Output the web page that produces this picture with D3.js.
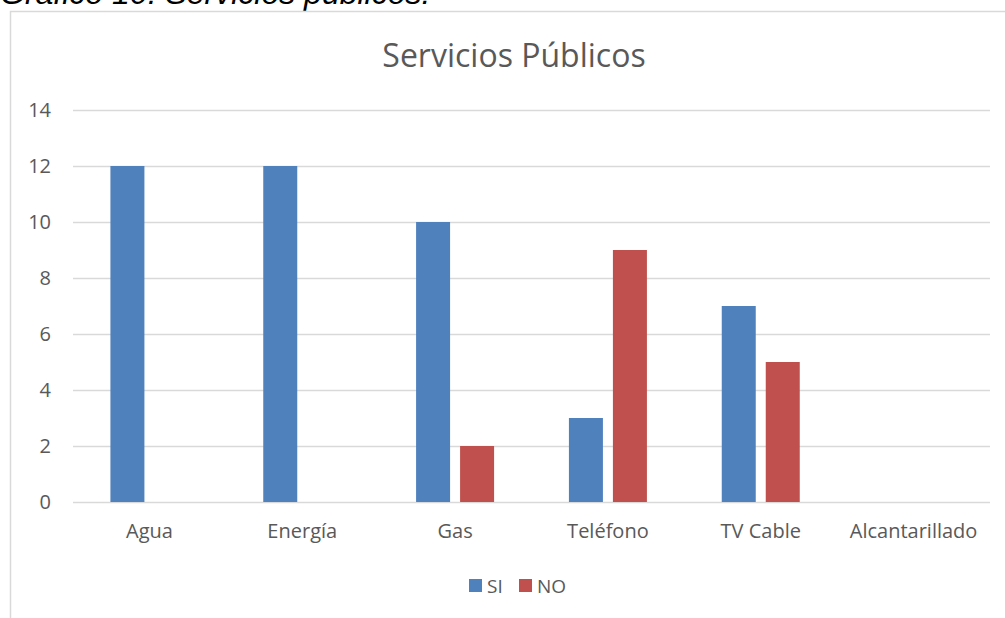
<!DOCTYPE html>
<html>
<head>
<meta charset="utf-8">
<script src="https://cdn.jsdelivr.net/npm/d3@7"></script>
<style>
  body { margin: 0; background: #fff; }
  svg { display: block; }
</style>
</head>
<body>
<svg id="chart" width="1005" height="618"></svg>
<script>
var categories = ["Agua", "Energía", "Gas", "Teléfono", "TV Cable", "Alcantarillado"];
var seriesNames = ["SI", "NO"];
var siValues = [12, 12, 10, 3, 7, 0];
var noValues = [0, 0, 2, 9, 5, 0];
var yTicks = [0, 2, 4, 6, 8, 10, 12, 14];
var colors = ["#4F81BD", "#C0504D"];

var svg = d3.select("#chart");
var font = "'Open Sans', sans-serif";

// caption above the chart box (clipped at top in the original)
svg.append("text")
    .attr("x", 0)
    .attr("y", 4)
    .style("font-family", "'Liberation Sans', Arial, sans-serif")
    .style("font-style", "italic")
    .style("font-size", "32px")
    .style("fill", "#000")
    .text("Gráfico 10. Servicios públicos.");

// chart area border (left and top only visible)
svg.append("path")
    .attr("d", "M10.5,618 V11.5 H1005")
    .attr("fill", "none")
    .attr("stroke", "#D9D9D9")
    .attr("stroke-width", 1.5);

var plotLeft = 73, plotRight = 990, plotTop = 110, plotBottom = 502;

var x0 = d3.scaleBand().domain(categories).range([plotLeft, plotRight]).padding(0);
var bw = x0.bandwidth();
var x1 = d3.scaleBand().domain(seriesNames)
    .range([bw / 2 - 39, bw / 2 + 39])
    .paddingInner(10 / 44);
var y = d3.scaleLinear().domain([0, 14]).range([plotBottom, plotTop]);

// gridlines
svg.append("g")
  .selectAll("line")
    .data(yTicks)
    .enter()
    .append("line")
    .attr("x1", plotLeft)
    .attr("x2", plotRight)
    .attr("y1", function(d) { return Math.round(y(d)) + 0.5; })
    .attr("y2", function(d) { return Math.round(y(d)) + 0.5; })
    .attr("stroke", "#D9D9D9")
    .attr("stroke-width", 1.3);

// y axis labels
var yAxis = svg.append("g")
    .attr("transform", "translate(" + (plotLeft - 22) + ",0)")
    .call(d3.axisLeft(y).tickValues(yTicks).tickSize(0).tickPadding(0));
yAxis.select(".domain").remove();
yAxis.selectAll("text")
    .style("font-family", font)
    .style("font-size", "20px")
    .style("fill", "#595959");

// x axis labels
var xAxis = svg.append("g")
    .attr("transform", "translate(0," + plotBottom + ")")
    .call(d3.axisBottom(x0).tickSize(0).tickPadding(22));
xAxis.select(".domain").remove();
xAxis.selectAll("text")
    .style("font-family", font)
    .style("font-size", "20px")
    .style("fill", "#595959");

var rows = categories.map(function(c, i) {
  return { cat: c, values: [siValues[i], noValues[i]] };
});

var groups = svg.selectAll(".grp")
    .data(rows)
    .enter()
    .append("g")
    .attr("class", "grp")
    .attr("transform", function(d) { return "translate(" + x0(d.cat) + ",0)"; });

groups.selectAll("rect")
    .data(function(d) { return d.values.map(function(v, j) { return { s: seriesNames[j], v: v, j: j }; }); })
    .enter()
    .append("rect")
    .attr("x", function(d) { return x1(d.s); })
    .attr("width", x1.bandwidth())
    .attr("y", function(d) { return y(d.v); })
    .attr("height", function(d) { return y(0) - y(d.v); })
    .attr("fill", function(d) { return colors[d.j]; });

// title
svg.append("text")
    .attr("x", 514)
    .attr("y", 67)
    .attr("text-anchor", "middle")
    .style("font-family", font)
    .style("font-size", "32px")
    .style("fill", "#595959")
    .text("Servicios Públicos");

// legend
var legend = svg.append("g").attr("transform", "translate(469,579)");
var legendX = [0, 50];
seriesNames.forEach(function(s, i) {
  legend.append("rect")
      .attr("x", legendX[i])
      .attr("y", 0)
      .attr("width", 13)
      .attr("height", 13)
      .attr("fill", colors[i]);
  legend.append("text")
      .attr("x", legendX[i] + 18)
      .attr("y", 14)
      .style("font-family", font)
      .style("font-size", "19px")
      .style("fill", "#595959")
      .text(s);
});
</script>
</body>
</html>
